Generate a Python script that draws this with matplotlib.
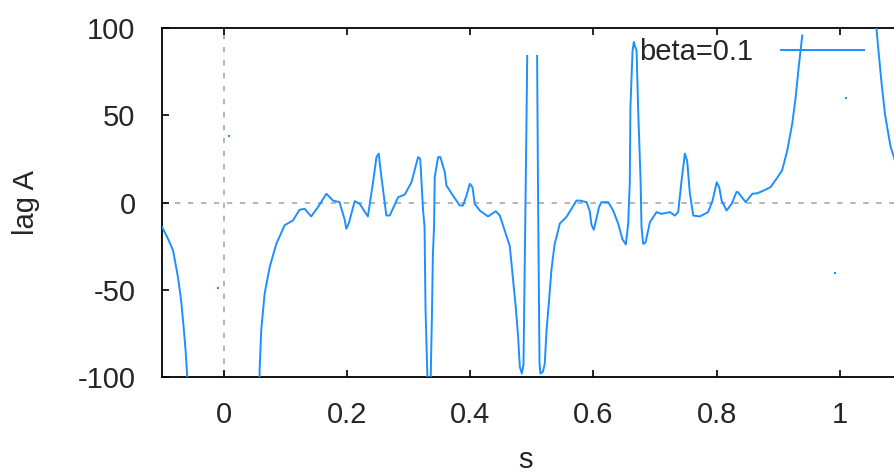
import matplotlib
matplotlib.use("Agg")
import matplotlib.pyplot as plt

# sampled curve, split where the function is undefined
left_s = [-0.1, -0.0985, -0.09, -0.082, -0.074, -0.069, -0.065, -0.0617, -0.059, -0.058]
left_lag = [-14, -15, -21, -27.5, -43, -56, -71, -85, -100, -120]

mid_s = [0.0575, 0.0584, 0.061, 0.0666, 0.0747, 0.0855, 0.099, 0.1125, 0.123, 0.1315, 0.142, 0.153,
         0.1667, 0.1775, 0.188, 0.1965, 0.199, 0.203, 0.2127, 0.2208, 0.234, 0.2424, 0.248, 0.2516,
         0.256, 0.264, 0.2695, 0.283, 0.294, 0.3047, 0.3155, 0.319, 0.3236, 0.326, 0.3275, 0.3306,
         0.332, 0.3352, 0.336, 0.338, 0.3395, 0.3414, 0.3425, 0.348, 0.3517, 0.3588, 0.3615, 0.372,
         0.383, 0.3885, 0.394, 0.3994, 0.4037, 0.4075, 0.4156, 0.429, 0.4416, 0.448, 0.456, 0.4643,
         0.4697, 0.474, 0.4778, 0.4805, 0.4838, 0.4865, 0.4897, 0.4926]
mid_lag = [-120, -96, -73, -52, -37, -23.7, -13, -10.3, -4.2, -3.6, -8, -2.7,
           5, 1.1, 0.2, -10, -15, -12, 0.8, -0.8, -8, 11.6, 26, 28,
           14.5, -7.4, -7.5, 3, 4.6, 11.6, 26, 25, -4.6, -14, -60, -100,
           -140, -140, -100, -64, -30, -14, 14.5, 26, 26, 17.4, 9.7, 4,
           -1.7, -1.7, 4, 10.7, 8.8, -0.8, -4.6, -8, -5, -7.4, -16, -25,
           -44.7, -60, -77, -94, -98, -93, -2.7, 84]

right_s = [0.5086, 0.5103, 0.5125, 0.514, 0.518, 0.521, 0.524, 0.528, 0.532, 0.537, 0.5427, 0.5455,
           0.556, 0.5644, 0.5725, 0.578, 0.5888, 0.594, 0.597, 0.6006, 0.605, 0.609, 0.613, 0.624,
           0.632, 0.64, 0.647, 0.6526, 0.6564, 0.659, 0.66, 0.6635, 0.6656, 0.667, 0.67, 0.6726,
           0.6765, 0.678, 0.6807, 0.6845, 0.6916, 0.7024, 0.7105, 0.724, 0.732, 0.7375, 0.743, 0.7484,
           0.752, 0.7565, 0.762, 0.7727, 0.786, 0.7933, 0.8, 0.804, 0.808, 0.816, 0.8242, 0.832,
           0.8344, 0.847, 0.8577, 0.866, 0.8766, 0.8874, 0.897, 0.906, 0.9145, 0.9225, 0.928, 0.933,
           0.9388]
right_lag = [84, -2.7, -92, -98, -97, -92.5, -73, -56, -38, -24, -16, -12,
             -8.4, -3.6, 1.1, 1.1, 0.2, -5, -13, -15.6, -9, -2.7, 0.2, 0.2,
             -4.6, -12, -21, -24, -12, 11.6, 54.6, 87, 92, 90, 87, 52.7,
             12.6, -14, -23.7, -23, -11.3, -5.5, -6.5, -5.5, -7.5, -5.5, 12.6, 28,
             24, 5, -7.5, -8, -5.5, 1.1, 11.6, 8.8, 1.1, -4.6, -0.8, 6,
             6, 0.2, 5, 5.3, 6.9, 8.8, 13.6, 18.3, 29.8, 45, 60, 77.5,
             95.7]

far_s = [1.058, 1.0595, 1.063, 1.0676, 1.073, 1.0784, 1.0823, 1.0877, 1.095]
far_lag = [110, 98.6, 85, 68, 50.8, 39.4, 31.7, 26, 15]

# lone samples between undefined points
dot_s = [-0.0092, 0.0086, 0.9914, 1.0097]
dot_lag = [-49, 38, -40.3, 60]

x_ticks = [0, 0.2, 0.4, 0.6, 0.8, 1]
x_labels = ["0", "0.2", "0.4", "0.6", "0.8", "1"]
y_ticks = [-100, -50, 0, 50, 100]
y_labels = ["-100", "-50", "0", "50", "100"]

blue = "#1e8fff"
ink = "#262626"
plt.rcParams["font.family"] = ["Liberation Sans", "DejaVu Sans"]
plt.rcParams["font.size"] = 21

W, H = 894, 476
fig = plt.figure(figsize=(W / 100, H / 100), dpi=100)
ax = fig.add_axes([162 / W, 99 / H, (901.6 - 162) / W, (377 - 28) / H])
ax.set_xlim(-0.1, 1.1)
ax.set_ylim(-100, 100)

ax.axhline(0, color="#a0a0a0", lw=1.1, ls=(0, (3.5, 5)), zorder=1)
ax.axvline(0, color="#a0a0a0", lw=1.1, ls=(0, (3.5, 5)), zorder=1)

line, = ax.plot(left_s, left_lag, color=blue, lw=1.4, zorder=3)
ax.plot(mid_s, mid_lag, color=blue, lw=1.4, zorder=3)
ax.plot(right_s, right_lag, color=blue, lw=1.4, zorder=3)
ax.plot(far_s, far_lag, color=blue, lw=1.4, zorder=3)
ax.plot(dot_s, dot_lag, ls="none", marker="s", ms=1.5, mew=0, color=blue, zorder=3)

ax.set_xticks(x_ticks)
ax.set_xticklabels(x_labels)
ax.set_yticks(y_ticks)
ax.set_yticklabels(y_labels)
ax.tick_params(direction="in", length=5, width=1.2, colors="black", labelcolor=ink,
               top=True, right=True)
ax.tick_params(axis="x", pad=17)
ax.tick_params(axis="y", pad=19)
for sp in ax.spines.values():
    sp.set_linewidth(1.3)

leg = ax.legend([line], ["beta=0.1"], loc="upper right", markerfirst=False, frameon=False,
                bbox_to_anchor=(864 / W, 1 - 38 / H), bbox_transform=fig.transFigure,
                borderpad=0, borderaxespad=0, handlelength=2.86, handletextpad=0.95)
for t in leg.get_texts():
    t.set_color(ink)

fig.text(26 / W, 1 - 203 / H, "lag A", rotation=90, ha="center", va="center", color=ink)
fig.text(525 / W, 1 - 468 / H, "s", ha="center", va="baseline", color=ink)

plt.savefig("out.png", dpi=100)
plt.close()
